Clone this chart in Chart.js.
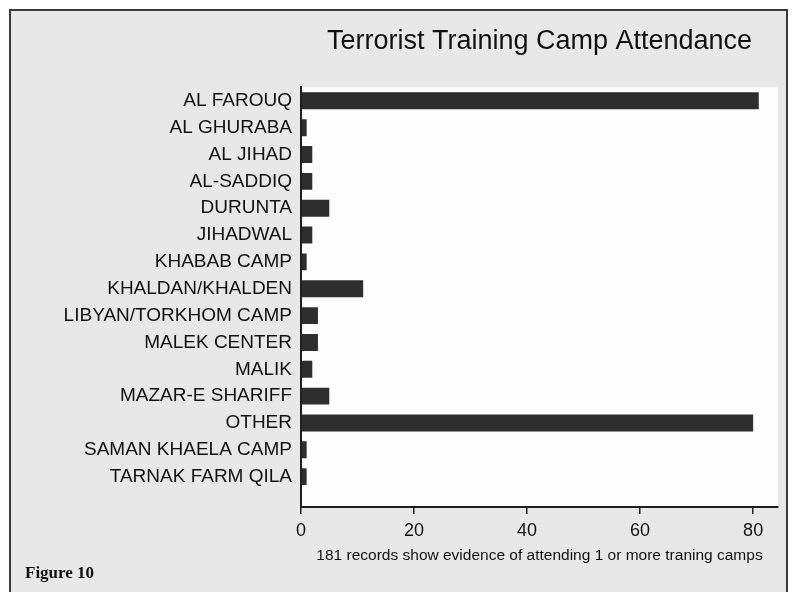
<!DOCTYPE html>
<html>
<head>
<meta charset="utf-8">
<script src="https://cdn.jsdelivr.net/npm/chart.js@4/dist/chart.umd.min.js"></script>
<style>
  html, body { margin: 0; padding: 0; background: #ffffff; }
  #wrap { width: 796px; height: 592px; }
</style>
</head>
<body>
<div id="wrap"><canvas id="c" width="796" height="592"></canvas></div>
<script>
const chartTitle = "Terrorist Training Camp Attendance";
const axisTitle = "181 records show evidence of attending 1 or more traning camps";
const figureLabel = "Figure 10";
const camps = [
  "AL FAROUQ", "AL GHURABA", "AL JIHAD", "AL-SADDIQ", "DURUNTA", "JIHADWAL",
  "KHABAB CAMP", "KHALDAN/KHALDEN", "LIBYAN/TORKHOM CAMP", "MALEK CENTER",
  "MALIK", "MAZAR-E SHARIFF", "OTHER", "SAMAN KHAELA CAMP", "TARNAK FARM QILA"
];
const attendance = [81, 1, 2, 2, 5, 2, 1, 11, 3, 3, 2, 5, 80, 1, 1];
const xTicks = [0, 20, 40, 60, 80];

const SANS = "'Liberation Sans', Arial, sans-serif";
const SERIF = "'Liberation Serif', 'Times New Roman', serif";

const decor = {
  id: 'decor',
  beforeDraw(chart) {
    const ctx = chart.ctx, a = chart.chartArea;
    ctx.save();
    ctx.fillStyle = '#ffffff';
    ctx.fillRect(0, 0, chart.width, chart.height);
    ctx.fillStyle = '#e8e8e8';
    ctx.fillRect(10, 10, 777, 590);
    ctx.fillStyle = '#fdfdfd';
    ctx.fillRect(a.left, a.top, a.right - a.left, a.bottom - a.top);
    ctx.strokeStyle = '#3a3a3a';
    ctx.lineWidth = 2;
    ctx.strokeRect(10, 10, 777, 600);
    ctx.restore();
  },
  afterDraw(chart) {
    const ctx = chart.ctx, a = chart.chartArea;
    ctx.save();
    ctx.fillStyle = '#111111';
    ctx.font = "27px " + SANS;
    ctx.textAlign = 'center';
    ctx.textBaseline = 'middle';
    ctx.fillText(chartTitle, (a.left + a.right) / 2, 42);
    ctx.font = "bold 17px " + SERIF;
    ctx.textAlign = 'left';
    ctx.textBaseline = 'alphabetic';
    ctx.fillText(figureLabel, 25, 578);
    ctx.restore();
  }
};

new Chart(document.getElementById('c'), {
  type: 'bar',
  data: {
    datasets: [{
      data: camps.map((c, i) => ({ x: attendance[i], y: i })),
      backgroundColor: '#2e2e2e',
      borderWidth: 0,
      barPercentage: 0.63,
      categoryPercentage: 1.0
    }]
  },
  options: {
    indexAxis: 'y',
    responsive: false,
    animation: false,
    devicePixelRatio: 1,
    layout: { padding: { top: 87.4, right: 18, left: 0, bottom: 0 } },
    plugins: { legend: { display: false }, tooltip: { enabled: false }, title: { display: false } },
    scales: {
      y: {
        type: 'linear',
        reverse: true,
        offset: false,
        min: -0.5,
        max: 15.13,
        afterFit(scale) { scale.width = 301; },
        afterBuildTicks(scale) { scale.ticks = camps.map((c, i) => ({ value: i })); },
        grid: { display: false, drawTicks: false, offset: false },
        border: { display: true, color: '#1e1e1e', width: 2 },
        ticks: {
          autoSkip: false,
          padding: 9,
          color: '#111111',
          font: { family: SANS, size: 19 },
          callback: (v) => camps[v]
        }
      },
      x: {
        type: 'linear',
        min: 0,
        max: 84.4,
        afterFit(scale) { scale.height = 85; },
        afterBuildTicks(scale) { scale.ticks = xTicks.map(v => ({ value: v })); },
        grid: { display: true, drawOnChartArea: false, drawTicks: true, tickLength: 7, color: '#1e1e1e', lineWidth: 1.5 },
        border: { display: true, color: '#1e1e1e', width: 2 },
        ticks: {
          padding: 6,
          color: '#111111',
          font: { family: SANS, size: 18 }
        },
        title: {
          display: true,
          text: axisTitle,
          color: '#111111',
          font: { family: SANS, size: 15.5 },
          padding: { top: 4, bottom: 27 }
        }
      }
    }
  },
  plugins: [decor]
});
</script>
</body>
</html>
